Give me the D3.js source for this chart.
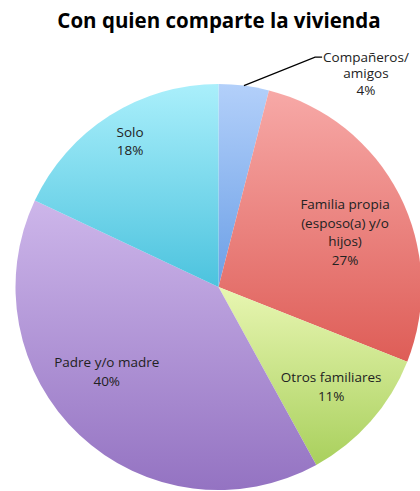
<!DOCTYPE html>
<html>
<head>
<meta charset="utf-8">
<script src="https://cdn.jsdelivr.net/npm/d3@7"></script>
<style>
  html, body { margin: 0; padding: 0; background: #fff; }
  svg { display: block; font-family: "Open Sans", "Noto Sans", sans-serif; }
  .title { font-weight: bold; font-size: 20.5px; fill: #000; }
  .slice-label { font-size: 13.5px; fill: #222; }
</style>
</head>
<body>
<div id="chart"></div>
<script>
// Data
const categories = ["Compañeros/ amigos", "Familia propia (esposo(a) y/o hijos)", "Otros familiares", "Padre y/o madre", "Solo"];
const labelLines = [["Compañeros/", "amigos"], ["Familia propia", "(esposo(a) y/o", "hijos)"], ["Otros familiares"], ["Padre y/o madre"], ["Solo"]];
const values = [4, 27, 11, 40, 18];

// Gradient colours per slice (top -> bottom)
const colorsTop = ["#b3d0fa", "#f7a9a7", "#e8f6b2", "#cdb6ea", "#aaeffb"];
const colorsBottom = ["#6b9fe6", "#de5d57", "#a9d05d", "#9473c2", "#4cc3de"];

const width = 420, height = 491;
const cx = 218.5, cy = 287, radius = 203;

const svg = d3.select('#chart')
    .append('svg')
    .attr('width', width)
    .attr('height', height);

svg.append('text')
    .attr('class', 'title')
    .attr('x', 219)
    .attr('y', 28)
    .attr('text-anchor', 'middle')
    .text('Con quien comparte la vivienda');

const defs = svg.append('defs');
values.forEach((v, i) => {
    const grad = defs.append('linearGradient')
        .attr('id', 'grad' + i)
        .attr('x1', 0).attr('y1', 0)
        .attr('x2', 0).attr('y2', 1);
    grad.append('stop').attr('offset', '0%').attr('stop-color', colorsTop[i]);
    grad.append('stop').attr('offset', '100%').attr('stop-color', colorsBottom[i]);
});

const pie = d3.pie().sort(null).value(d => d);
const arcs = pie(values);

const arc = d3.arc().innerRadius(0).outerRadius(radius);

const g = svg.append('g')
    .attr('transform', `translate(${cx}, ${cy})`);

g.selectAll('path.slice')
    .data(arcs)
    .enter()
    .append('path')
    .attr('class', 'slice')
    .attr('d', arc)
    .attr('fill', (d, i) => `url(#grad${i})`);

// Label radius (fraction of radius) and angular nudge, roughly Excel "best fit"
const labelRadius = [1.28, 0.68, 0.74, 0.69, 0.84];
const labelNudge = [0.478, 0.06, 0, 0.17, 0.02];
const lineH = 18.5;

arcs.forEach((d, i) => {
    const a = (d.startAngle + d.endAngle) / 2 + labelNudge[i];
    const r = radius * labelRadius[i];
    const x = Math.sin(a) * r;
    const y = -Math.cos(a) * r;
    const lh = i === 0 ? 16.5 : lineH;
    const lines = labelLines[i].concat([d.value + '%']);
    const t = g.append('text')
        .attr('class', 'slice-label')
        .attr('text-anchor', 'middle');
    const y0 = y - (lines.length - 1) * lh / 2 + 5;
    lines.forEach((ln, k) => {
        t.append('tspan')
            .attr('x', x)
            .attr('y', y0 + k * lh)
            .text(ln);
    });
    if (i === 0) {
        // leader line for the small outside slice
        const ea = (d.startAngle + d.endAngle) / 2;
        const p0 = [Math.sin(ea) * radius, -Math.cos(ea) * radius];
        const bbox = t.node().getBBox();
        const p2 = [bbox.x - 1, y0 - 4.5];
        const p1 = [p2[0] - 7, p2[1]];
        g.append('polyline')
            .attr('points', [p0, p1, p2].map(p => p.join(',')).join(' '))
            .attr('fill', 'none')
            .attr('stroke', '#000')
            .attr('stroke-width', 1.2);
    }
});
</script>
</body>
</html>
